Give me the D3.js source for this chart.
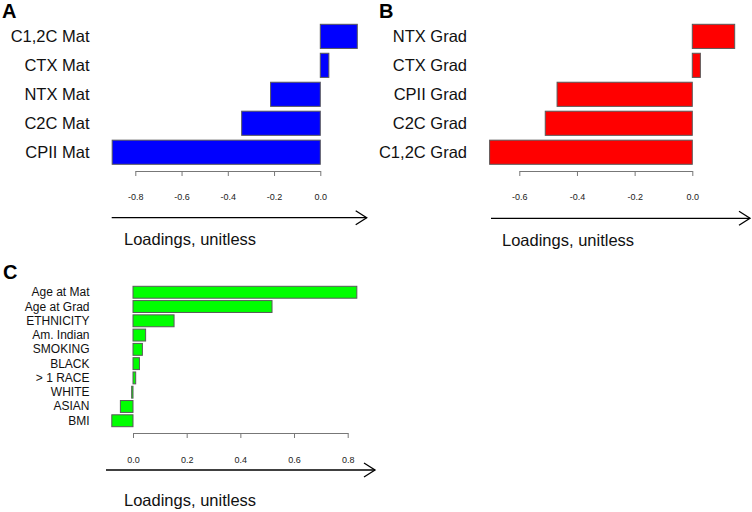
<!DOCTYPE html>
<html><head><meta charset="utf-8">
<script src="https://cdn.jsdelivr.net/npm/d3@7"></script>
<style>body{margin:0;background:#fff}svg{display:block;font-family:"Liberation Sans",Arial,sans-serif}</style>
</head><body><svg id="c" width="752" height="512"></svg>
<script>
// Panel A
const catsA = ["C1,2C Mat","CTX Mat","NTX Mat","C2C Mat","CPII Mat"];
const valsA = [0.16, 0.037, -0.215, -0.34, -0.90];
const ticksA = [-0.8,-0.6,-0.4,-0.2,0.0];
// Panel B
const catsB = ["NTX Grad","CTX Grad","CPII Grad","C2C Grad","C1,2C Grad"];
const valsB = [0.147, 0.028, -0.469, -0.51, -0.703];
const ticksB = [-0.6,-0.4,-0.2,0.0];
// Panel C
const catsC = ["Age at Mat","Age at Grad","ETHNICITY","Am. Indian","SMOKING","BLACK","> 1 RACE","WHITE","ASIAN","BMI"];
const valsC = [0.834, 0.518, 0.153, 0.047, 0.035, 0.024, 0.010, -0.005, -0.047, -0.079];
const ticksC = [0.0,0.2,0.4,0.6,0.8];
const axisTitle = "Loadings, unitless";

const svg = d3.select("#c");

function panel(o){
  const g = svg.append("g");
  const x = d3.scaleLinear().domain(o.dom).range(o.xr);
  const y = d3.scaleBand().domain(o.cats).range(o.yr).paddingInner(0.2/1.2).paddingOuter(0);
  g.selectAll("rect.bar").data(o.vals).join("rect")
    .attr("x",(d)=>x(Math.min(0,d)))
    .attr("width",(d)=>Math.abs(x(d)-x(0)))
    .attr("y",(d,i)=>y(o.cats[i]))
    .attr("height",y.bandwidth())
    .attr("fill",o.color).attr("stroke","#5a5a5a").attr("stroke-width",1);
  g.selectAll("text.cat").data(o.cats).join("text")
    .attr("x",o.labX).attr("y",(d)=>y(d)+y.bandwidth()/2)
    .attr("text-anchor","end").attr("dominant-baseline","central")
    .attr("font-size",o.catFs).attr("fill","#111").text((d)=>d);
  const ax = g.append("g").attr("transform",`translate(0,${o.axY})`)
    .call(d3.axisBottom(x).tickValues(o.ticks).tickFormat(d3.format(".1f"))
      .tickSize(5).tickSizeOuter(0).tickPadding(o.tp));
  ax.selectAll("path,line").attr("stroke","#777");
  ax.selectAll("text").attr("font-size",9).attr("fill","#222")
    .attr("font-family","'Liberation Sans',Arial,sans-serif")
    .text((d)=>d3.format(".1f")(d).replace("−","-"));
  // arrow
  const a = o.arrow;
  g.append("line").attr("x1",a[0]).attr("x2",a[1]).attr("y1",a[2]).attr("y2",a[2])
    .attr("stroke","#000").attr("stroke-width",1.3);
  g.append("path").attr("d",`M${a[1]-11},${a[2]-7}L${a[1]},${a[2]}L${a[1]-11},${a[2]+7}`)
    .attr("fill","none").attr("stroke","#000").attr("stroke-width",1.3);
  g.append("text").attr("x",o.tX).attr("y",o.tY).attr("font-size",16.5).attr("fill","#111").text(axisTitle);
  g.append("text").attr("x",o.L[1]).attr("y",o.L[2]).attr("font-size",20).attr("font-weight","bold").text(o.L[0]);
}

panel({cats:catsA, vals:valsA, ticks:ticksA, dom:[-0.8,0], xr:[135.3,320.3], yr:[24.3,164.3],
  color:"#0000ff", labX:89.5, catFs:16.5, axY:171, tp:18, arrow:[111.7,366.7,217.7],
  tX:124, tY:245, L:["A",2,18.3]});
panel({cats:catsB, vals:valsB, ticks:ticksB, dom:[-0.6,0], xr:[519.3,692.3], yr:[24.3,164.3],
  color:"#ff0000", labX:467, catFs:16.5, axY:171, tp:18, arrow:[491,750,218.3],
  tX:502, tY:245.5, L:["B",379,18.3]});
panel({cats:catsC, vals:valsC, ticks:ticksC, dom:[0,0.8], xr:[133,347.7], yr:[286.3,426.7],
  color:"#00ff00", labX:89.5, catFs:12, axY:433, tp:18.8, arrow:[106,375,470],
  tX:124, tY:506, L:["C",3,278.7]});
</script></body></html>
